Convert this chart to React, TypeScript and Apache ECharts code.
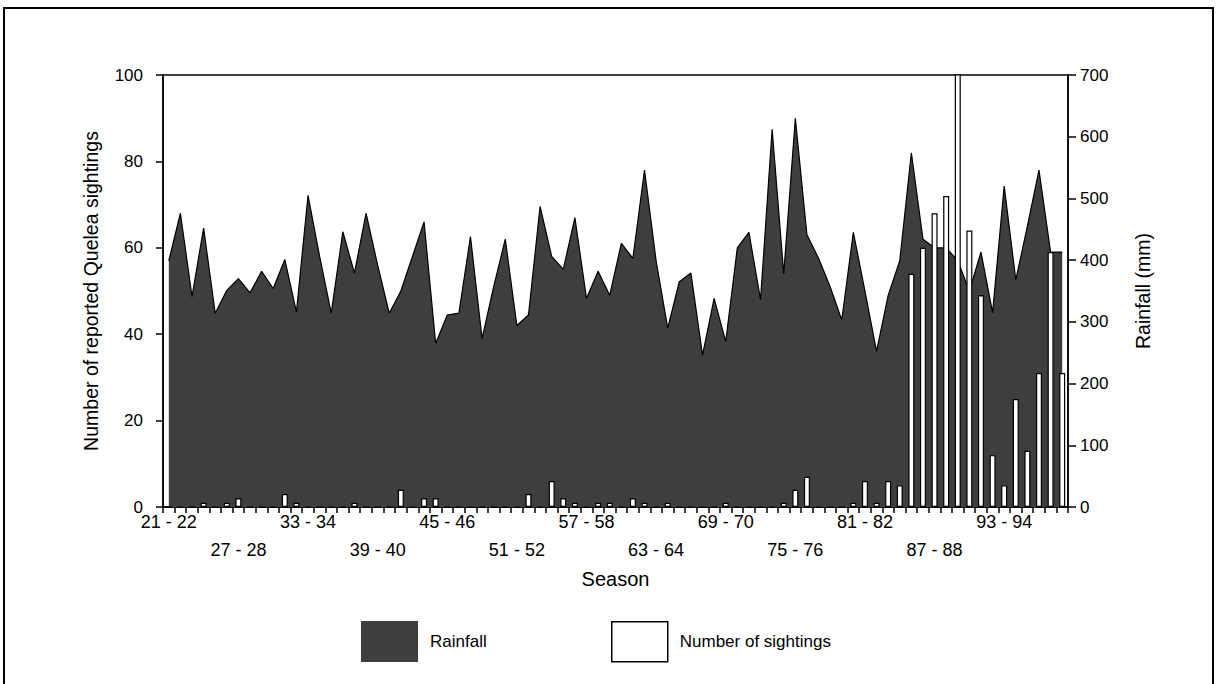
import { useEffect, useRef } from "react";
import * as echarts from "echarts";

// Seasons on the category axis (one per rainy season)
const seasons = [
  "21 - 22", "22 - 23", "23 - 24", "24 - 25", "25 - 26", "26 - 27", "27 - 28", "28 - 29",
  "29 - 30", "30 - 31", "31 - 32", "32 - 33", "33 - 34", "34 - 35", "35 - 36", "36 - 37",
  "37 - 38", "38 - 39", "39 - 40", "40 - 41", "41 - 42", "42 - 43", "43 - 44", "44 - 45",
  "45 - 46", "46 - 47", "47 - 48", "48 - 49", "49 - 50", "50 - 51", "51 - 52", "52 - 53",
  "53 - 54", "54 - 55", "55 - 56", "56 - 57", "57 - 58", "58 - 59", "59 - 60", "60 - 61",
  "61 - 62", "62 - 63", "63 - 64", "64 - 65", "65 - 66", "66 - 67", "67 - 68", "68 - 69",
  "69 - 70", "70 - 71", "71 - 72", "72 - 73", "73 - 74", "74 - 75", "75 - 76", "76 - 77",
  "77 - 78", "78 - 79", "79 - 80", "80 - 81", "81 - 82", "82 - 83", "83 - 84", "84 - 85",
  "85 - 86", "86 - 87", "87 - 88", "88 - 89", "89 - 90", "90 - 91", "91 - 92", "92 - 93",
  "93 - 94", "94 - 95", "95 - 96", "96 - 97", "97 - 98", "98 - 99",
];

// Seasonal rainfall (mm), right axis
const rainfallMm = [
  399, 476, 341, 452, 314, 351, 370, 347, 382, 354,
  401, 316, 505, 406, 314, 446, 379, 476, 392, 314,
  350, 406, 462, 265, 311, 314, 438, 273, 357, 434,
  294, 311, 487, 406, 385, 469, 338, 382, 343, 427,
  403, 546, 399, 290, 365, 379, 246, 338, 268, 420,
  445, 336, 612, 378, 630, 441, 403, 357, 303, 445,
  350, 252, 343, 399, 574, 434, 420, 420, 399, 350,
  413, 315, 520, 368, 455, 546, 413, 413,
];

// Number of reported Quelea sightings per season, left axis
// (88 - 89 runs off the top of the scale)
const sightings = [
  0, 0, 0, 1, 0, 1, 2, 0, 0, 0,
  3, 1, 0, 0, 0, 0, 1, 0, 0, 0,
  4, 0, 2, 2, 0, 0, 0, 0, 0, 0,
  0, 3, 0, 6, 2, 1, 0, 1, 1, 0,
  2, 1, 0, 1, 0, 0, 0, 0, 1, 0,
  0, 0, 0, 1, 4, 7, 0, 0, 0, 1,
  6, 1, 6, 5, 54, 60, 68, 72, 120, 64,
  49, 12, 5, 25, 13, 31, 59, 31,
];

const sightingTicks = { min: 0, max: 100, interval: 20 };
const rainfallTicks = { min: 0, max: 700, interval: 100 };

const FONT = "'Liberation Sans', Arial, Helvetica, sans-serif";
const DARK = "#3e3e3e";

export default function App() {
  const ref = useRef<HTMLDivElement>(null);

  useEffect(() => {
    document.body.style.margin = "0";
    if (!ref.current) return;
    const chart = echarts.init(ref.current, undefined, { renderer: "svg" });

    const axisLine = { show: true, lineStyle: { color: "#000", width: 1.5 } };

    chart.setOption({
      animation: false,
      backgroundColor: "#fff",
      textStyle: { fontFamily: FONT, color: "#000" },
      grid: {
        left: 163,
        right: 150,
        top: 75,
        bottom: 177,
        show: true,
        borderColor: "#000",
        borderWidth: 1.5,
        backgroundColor: "transparent",
      },
      graphic: [
        {
          type: "rect",
          shape: { x: 4, y: 8, width: 1209, height: 690 },
          style: { fill: "none", stroke: "#000", lineWidth: 2 },
          silent: true,
          z: 100,
        },
      ],
      legend: [
        {
          left: 361,
          top: 621,
          padding: 0,
          itemWidth: 57,
          itemHeight: 41,
          selectedMode: false,
          textStyle: { fontSize: 17, color: "#000", fontFamily: FONT, padding: [0, 0, 0, 7] },
          data: [{ name: "Rainfall", icon: "rect", itemStyle: { color: DARK, borderWidth: 0 } }],
        },
        {
          left: 611,
          top: 621,
          padding: 0,
          itemWidth: 56,
          itemHeight: 40,
          selectedMode: false,
          textStyle: { fontSize: 17, color: "#000", fontFamily: FONT, padding: [0, 0, 0, 7] },
          data: [
            {
              name: "Number of sightings",
              icon: "rect",
              itemStyle: { color: "#fff", borderColor: "#000", borderWidth: 1.5 },
            },
          ],
        },
      ],
      xAxis: {
        type: "category",
        data: seasons,
        boundaryGap: true,
        name: "Season",
        nameLocation: "middle",
        nameGap: 48,
        nameTextStyle: { fontSize: 20, color: "#000", fontFamily: FONT },
        axisLine,
        axisTick: { show: true, interval: 0, length: 6, lineStyle: { color: "#000", width: 1.5 } },
        axisLabel: {
          interval: 0,
          fontSize: 18,
          color: "#000",
          fontFamily: FONT,
          margin: 1,
          lineHeight: 28,
          formatter: (v: string, i: number) =>
            i % 12 === 0 ? v : i % 12 === 6 ? "\n" + v : "",
        },
        splitLine: { show: false },
      },
      yAxis: [
        {
          type: "value",
          position: "left",
          ...sightingTicks,
          name: "Number of reported Quelea sightings",
          nameLocation: "middle",
          nameGap: 62,
          nameRotate: 90,
          nameTextStyle: { fontSize: 19.5, color: "#000", fontFamily: FONT },
          axisLine,
          axisTick: { show: true, length: 7, lineStyle: { color: "#000", width: 1.5 } },
          axisLabel: { fontSize: 17, color: "#000", fontFamily: FONT, margin: 20 },
          splitLine: { show: false },
        },
        {
          type: "value",
          position: "right",
          ...rainfallTicks,
          name: "Rainfall (mm)",
          nameLocation: "middle",
          nameGap: 65,
          nameRotate: 90,
          nameTextStyle: { fontSize: 19.5, color: "#000", fontFamily: FONT },
          axisLine,
          axisTick: { show: true, length: 8, lineStyle: { color: "#000", width: 1.5 } },
          axisLabel: { fontSize: 17, color: "#000", fontFamily: FONT, margin: 12 },
          splitLine: { show: false },
        },
      ],
      series: [
        {
          name: "Rainfall",
          type: "line",
          yAxisIndex: 1,
          data: rainfallMm,
          symbol: "none",
          showSymbol: false,
          lineStyle: { color: "#000", width: 1.2 },
          itemStyle: { color: DARK },
          areaStyle: { color: DARK, opacity: 1 },
          z: 1,
        },
        {
          name: "Number of sightings",
          type: "bar",
          yAxisIndex: 0,
          data: sightings,
          barWidth: 6,
          clip: true,
          itemStyle: { color: "#fff", borderColor: "#000", borderWidth: 1.2 },
          z: 3,
        },
      ],
    });

    return () => chart.dispose();
  }, []);

  return <div ref={ref} style={{ width: 1218, height: 684 }} />;
}
